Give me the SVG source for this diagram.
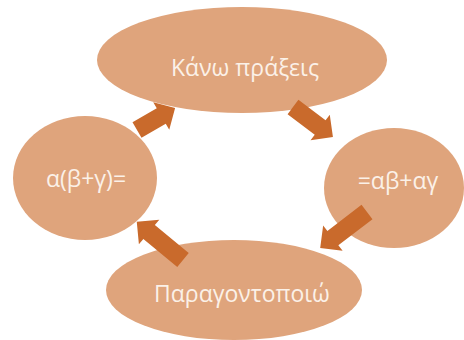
<svg xmlns="http://www.w3.org/2000/svg" width="464" height="340" viewBox="0 0 464 340">
<style>
.node{fill:#DFA47C;}
.lbl{fill:#FBF1E8;font-family:"Open Sans","Noto Sans",sans-serif;font-size:23px;text-anchor:middle;}
.arr{fill:#C96A2C;}
</style>
<rect width="464" height="340" fill="#ffffff"/>
<g id="top"><ellipse class="node" cx="242" cy="60" rx="145" ry="53"/><text class="lbl" x="245" y="76">Κάνω πράξεις</text></g>
<g id="left"><ellipse class="node" cx="85" cy="178" rx="72" ry="62"/><text class="lbl" x="86" y="187">α(β+γ)=</text></g>
<g id="right"><ellipse class="node" cx="394" cy="188" rx="70" ry="60"/><text class="lbl" x="398" y="189">=αβ+αγ</text></g>
<g id="bottom"><ellipse class="node" cx="234" cy="290" rx="128" ry="50"/><text class="lbl" x="242" y="302">Παραγοντοποιώ</text></g>
<g id="connectors">
<path class="arr" transform="translate(137,130) rotate(-30)" d="M0,-9 H28 V-16 L44,0 L28,16 V9 H0 Z"/>
<path class="arr" transform="translate(293,107) rotate(37)" d="M0,-9 H34 V-16 L50,0 L34,16 V9 H0 Z"/>
<path class="arr" transform="translate(367,212) rotate(142.5)" d="M0,-9 H43 V-16 L59,0 L43,16 V9 H0 Z"/>
<path class="arr" transform="translate(183,260) rotate(219.6)" d="M0,-9 H44 V-16 L60,0 L44,16 V9 H0 Z"/>
</g>
</svg>
